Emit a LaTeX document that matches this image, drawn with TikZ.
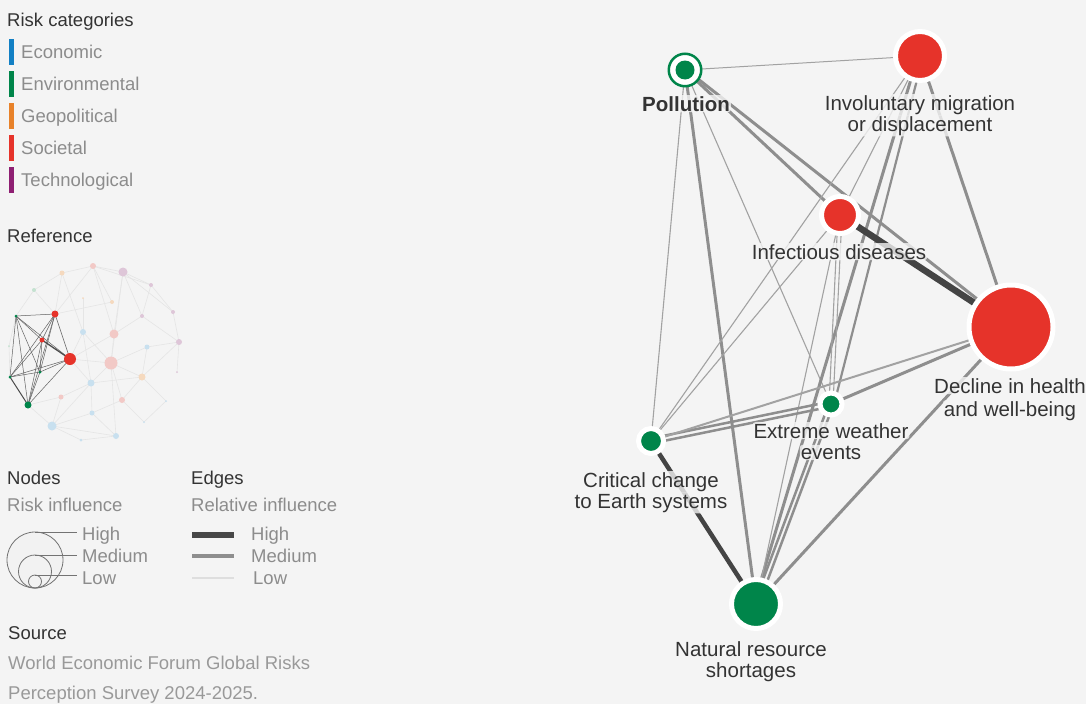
\documentclass[tikz,border=0pt]{standalone}
\usepackage{fontspec}
\setmainfont{Liberation Sans}
\usetikzlibrary{calc}
\pgfdeclarelayer{back}
\pgfdeclarelayer{bg}
\pgfsetlayers{back,bg,main}
\definecolor{bgc}{HTML}{F4F4F4}
\definecolor{econ}{HTML}{1380C4}
\definecolor{envi}{HTML}{00854A}
\definecolor{geop}{HTML}{E8822A}
\definecolor{soci}{HTML}{E6332A}
\definecolor{tech}{HTML}{8E1F72}
\definecolor{txtd}{HTML}{333333}
\definecolor{txtl}{HTML}{8C8C8C}
\definecolor{edgehi}{HTML}{444444}
\definecolor{edgemd}{HTML}{8E8E8E}
\definecolor{edgelo}{HTML}{A2A2A2}
\definecolor{fblue}{HTML}{C8E0EF}
\definecolor{fpink}{HTML}{F2C9C6}
\definecolor{fpurp}{HTML}{DEC6D8}
\definecolor{forng}{HTML}{F5D9BE}
\definecolor{fgreen}{HTML}{C4E2D0}
\newcommand\pairline[4]{\draw[#1] ($(#3.center)!#2!90:(#4.center)$) -- ($(#4.center)!#2!-90:(#3.center)$);}
\begin{document}
\begin{tikzpicture}[x=1pt,y=-1pt,
  head/.style={font=\fontsize{18.5}{20}\selectfont, text=txtd, inner sep=0pt, anchor=base west},
  item/.style={font=\fontsize{18.5}{20}\selectfont, text=txtl, inner sep=0pt, anchor=base west},
  lbl/.style={font=\fontsize{20.5}{21.5}\selectfont, text=txtd, inner sep=1pt, align=center, fill=bgc, fill opacity=0.8, text opacity=1, rounded corners=3pt, anchor=base},
  rk/.style={circle, draw=white, line width=5pt, inner sep=0pt, outer sep=0pt, minimum size=#1},
  mini/.style={circle, inner sep=0pt, outer sep=0pt, minimum size=#1},
  thin/.style={edgelo, line width=1.1pt},
  med/.style={edgemd, line width=3pt},
  high/.style={edgehi, line width=5pt},
  fe/.style={black!10, line width=0.6pt},
  de/.style={black!62, line width=0.5pt}]
\begin{pgfonlayer}{back}
\fill[bgc] (0,0) rectangle (1086,704);
\end{pgfonlayer}
\useasboundingbox (0,0) rectangle (1086,704);

% ---------- Risk categories legend
\node[head] (tRC) at (7,26.5) {Risk categories};
\fill[econ] (9,39) rectangle (14,65);
\fill[envi] (9,71) rectangle (14,97);
\fill[geop] (9,103) rectangle (14,129);
\fill[soci] (9,135) rectangle (14,161);
\fill[tech] (9,167) rectangle (14,193);
\node[item] (tEc) at (21,58.5) {Economic};
\node[item] (tEn) at (21,90.5) {Environmental};
\node[item] (tGe) at (21,122.5) {Geopolitical};
\node[item] (tSo) at (21,154.5) {Societal};
\node[item] (tTe) at (21,186.5) {Technological};

% ---------- Reference mini graph
\node[head] (tRef) at (7,242.5) {Reference};
\node[mini=6pt, fill=fpink] (f1) at (93,266) {};
\node[mini=5pt, fill=forng] (f2) at (62,273) {};
\node[mini=9pt, fill=fpurp] (f3) at (123,272) {};
\node[mini=4pt, fill=fgreen] (f4) at (34,290) {};
\node[mini=2pt, fill=forng] (f5) at (83,298) {};
\node[mini=4pt, fill=forng] (f6) at (112,302) {};
\node[mini=4pt, fill=fpurp] (f7) at (151,285) {};
\node[mini=4pt, fill=fpurp] (f8) at (173,312) {};
\node[mini=4pt, fill=fpurp] (f9) at (142,316) {};
\node[mini=6pt, fill=fblue] (f10) at (83,332) {};
\node[mini=9pt, fill=fpink] (f11) at (114,334) {};
\node[mini=5pt, fill=fblue] (f12) at (147,347) {};
\node[mini=6pt, fill=fpurp] (f13) at (179,342) {};
\node[mini=2pt, fill=fgreen] (f14) at (9,346) {};
\node[mini=13pt, fill=fpink] (f15) at (111,363) {};
\node[mini=7pt, fill=forng] (f16) at (142,377) {};
\node[mini=2pt, fill=fpurp] (f17) at (177,372) {};
\node[mini=7pt, fill=fblue] (f18) at (91,383) {};
\node[mini=5pt, fill=fpink] (f19) at (61,397) {};
\node[mini=6pt, fill=fpink] (f20) at (122,400) {};
\node[mini=2pt, fill=fblue] (f21) at (166,401) {};
\node[mini=5pt, fill=fblue] (f22) at (92,413) {};
\node[mini=2pt, fill=fblue] (f23) at (144,422) {};
\node[mini=9pt, fill=fblue] (f24) at (52,426) {};
\node[mini=6pt, fill=fblue] (f25) at (116,436) {};
\node[mini=3pt, fill=fblue] (f26) at (81,440) {};
\node[mini=3pt, fill=envi] (mp) at (16,316) {};
\node[mini=7pt, fill=soci] (mim) at (55,314) {};
\node[mini=5pt, fill=soci] (mid) at (42,340) {};
\node[mini=12pt, fill=soci] (mdh) at (70,359) {};
\node[mini=3pt, fill=envi] (mew) at (40,372) {};
\node[mini=3pt, fill=envi] (mcc) at (10,377) {};
\node[mini=7pt, fill=envi] (mnr) at (28,405) {};
\begin{pgfonlayer}{bg}
\foreach \a/\b in {f1/f2,f1/f3,f1/f6,f1/f11,f2/f4,f2/f10,f3/f7,f3/f8,f3/f11,f3/f15,f7/f8,f8/f13,f7/f9,f9/f13,f9/f11,f11/f15,f10/f15,f10/f18,f12/f15,f13/f16,f15/f16,f15/f18,f15/f20,f15/f25,f16/f18,f16/f21,f18/f19,f18/f22,f20/f22,f20/f23,f22/f24,f24/f25,f24/f26,f25/f26,f22/f25,f19/f24,f4/mp,f14/mcc,f2/mim,f1/mim,f6/mim,f10/mdh,f15/mdh,f11/mdh,f18/mdh,f19/mnr,f24/mnr,f12/f16,f1/f7,f3/f9,f5/f10,f13/f17,f21/f23,f12/f13,f16/f20,f4/mim,f14/mp,f24/f18}
  {\draw[fe] (\a.center) -- (\b.center);}
\foreach \a/\b in {mp/mim,mp/mid,mp/mdh,mp/mnr,mp/mcc,mp/mew,mim/mdh,mim/mcc,mim/mid,mim/mew,mim/mnr,mid/mew,mid/mnr,mid/mcc,mew/mcc,mdh/mcc,mdh/mew,mdh/mnr,mew/mnr}
  {\draw[de] (\a.center) -- (\b.center);}
\draw[black!70, line width=1.3pt] (mid.center) -- (mdh.center);
\draw[black!70, line width=1pt] (mcc.center) -- (mnr.center);
\end{pgfonlayer}

% ---------- Nodes legend
\node[head] (tNodes) at (7,484.5) {Nodes};
\node[item] (tRI) at (7,511.5) {Risk influence};
\draw[black!55, line width=0.8pt, fill=black!5] (35,560) circle (28);
\draw[black!55, line width=0.8pt] (35,571.5) circle (16.5);
\draw[black!55, line width=0.8pt] (35,581.5) circle (6.5);
\draw[black!55, line width=0.8pt] (35,532) -- (77,532);
\draw[black!55, line width=0.8pt] (35,555) -- (77,555);
\draw[black!55, line width=0.8pt] (35,575) -- (77,575);
\node[item, text=black!45] (tNH) at (82,540.5) {High};
\node[item, text=black!45] (tNM) at (82,562.5) {Medium};
\node[item, text=black!45] (tNL) at (82,584.5) {Low};

% ---------- Edges legend
\node[head] (tEdges) at (191,484.5) {Edges};
\node[item] (tRel) at (191,511.5) {Relative influence};
\draw[line width=6pt, black!72] (192,535) -- (234,535);
\draw[line width=4pt, edgemd] (192,556) -- (234,556);
\draw[line width=2pt, black!13] (192,578) -- (234,578);
\node[item, text=black!45] (tEH) at (251,540.5) {High};
\node[item, text=black!45] (tEM) at (251,562.5) {Medium};
\node[item, text=black!45] (tEL) at (253,584.5) {Low};

% ---------- Source
\node[head] (tSrc) at (8,639.5) {Source};
\node[item, text=black!40] (tS1) at (8,669.5) {World Economic Forum Global Risks};
\node[item, text=black!40] (tS2) at (8,699.5) {Perception Survey 2024-2025.};

% ---------- Main graph nodes
\node[circle, fill=white, draw=envi, line width=2.5pt, inner sep=0pt, outer sep=0pt, minimum size=32.5pt] (P) at (685,70) {};
\node[circle, fill=envi, inner sep=0pt, minimum size=19pt] (Pin) at (P.center) {};
\node[rk=49pt, fill=soci] (IM) at (920,56) {};
\node[rk=37pt, fill=soci] (ID) at (840,215) {};
\node[rk=84pt, fill=soci] (DH) at (1011,327) {};
\node[rk=22pt, fill=envi] (EW) at (831,404) {};
\node[rk=25pt, fill=envi] (CC) at (651,441) {};
\node[rk=49pt, fill=envi] (NR) at (756,604) {};

% ---------- Main graph edges
\begin{pgfonlayer}{bg}
\draw[thin, line width=1pt] (P.center) -- (IM.center);
\draw[med] (P.center) -- (ID.center);
\pairline{med}{1pt}{P}{DH}
\draw[med] (P.center) -- (NR.center);
\draw[thin] (P.center) -- (CC.center);
\draw[thin] (P.center) -- (EW.center);
\draw[med] (IM.center) -- (DH.center);
\draw[thin] (IM.center) -- (CC.center);
\draw[thin] (IM.center) -- (ID.center);
\pairline{med, line width=2.2pt}{3pt}{IM}{EW}
\pairline{med}{-2pt}{IM}{NR}
\draw[high, line width=6.5pt] (ID.center) -- (DH.center);
\pairline{thin}{2pt}{ID}{EW}
\pairline{thin}{-2pt}{ID}{EW}
\draw[thin] (ID.center) -- (NR.center);
\draw[thin] (ID.center) -- (CC.center);
\pairline{med, line width=2.5pt}{2.5pt}{EW}{CC}
\pairline{med, line width=2.5pt}{-2.5pt}{EW}{CC}
\draw[thin, line width=2pt] (DH.center) -- (CC.center);
\draw[med] (DH.center) -- (EW.center);
\draw[med] (DH.center) -- (NR.center);
\draw[high, line width=4.5pt] (CC.center) -- (NR.center);
\pairline{med, line width=2.5pt}{2.5pt}{EW}{NR}
\pairline{med, line width=2.5pt}{-2pt}{EW}{NR}
\end{pgfonlayer}

% ---------- Main graph labels (one node per printed line)
\node[lbl] (LP) at (686,111) {\textbf{Pollution}};
\node[lbl] (LIM1) at (920,110) {Involuntary migration};
\node[lbl] (LIM2) at (920,131) {or displacement};
\node[lbl] (LID) at (839,259) {Infectious diseases};
\node[lbl] (LDH1) at (1010,393) {Decline in health};
\node[lbl] (LDH2) at (1010,416) {and well-being};
\node[lbl] (LEW1) at (831,438) {Extreme weather};
\node[lbl] (LEW2) at (831,459) {events};
\node[lbl] (LCC1) at (651,487) {Critical change};
\node[lbl] (LCC2) at (651,508) {to Earth systems};
\node[lbl] (LNR1) at (751,656) {Natural resource};
\node[lbl] (LNR2) at (751,677) {shortages};
\end{tikzpicture}
\end{document}
